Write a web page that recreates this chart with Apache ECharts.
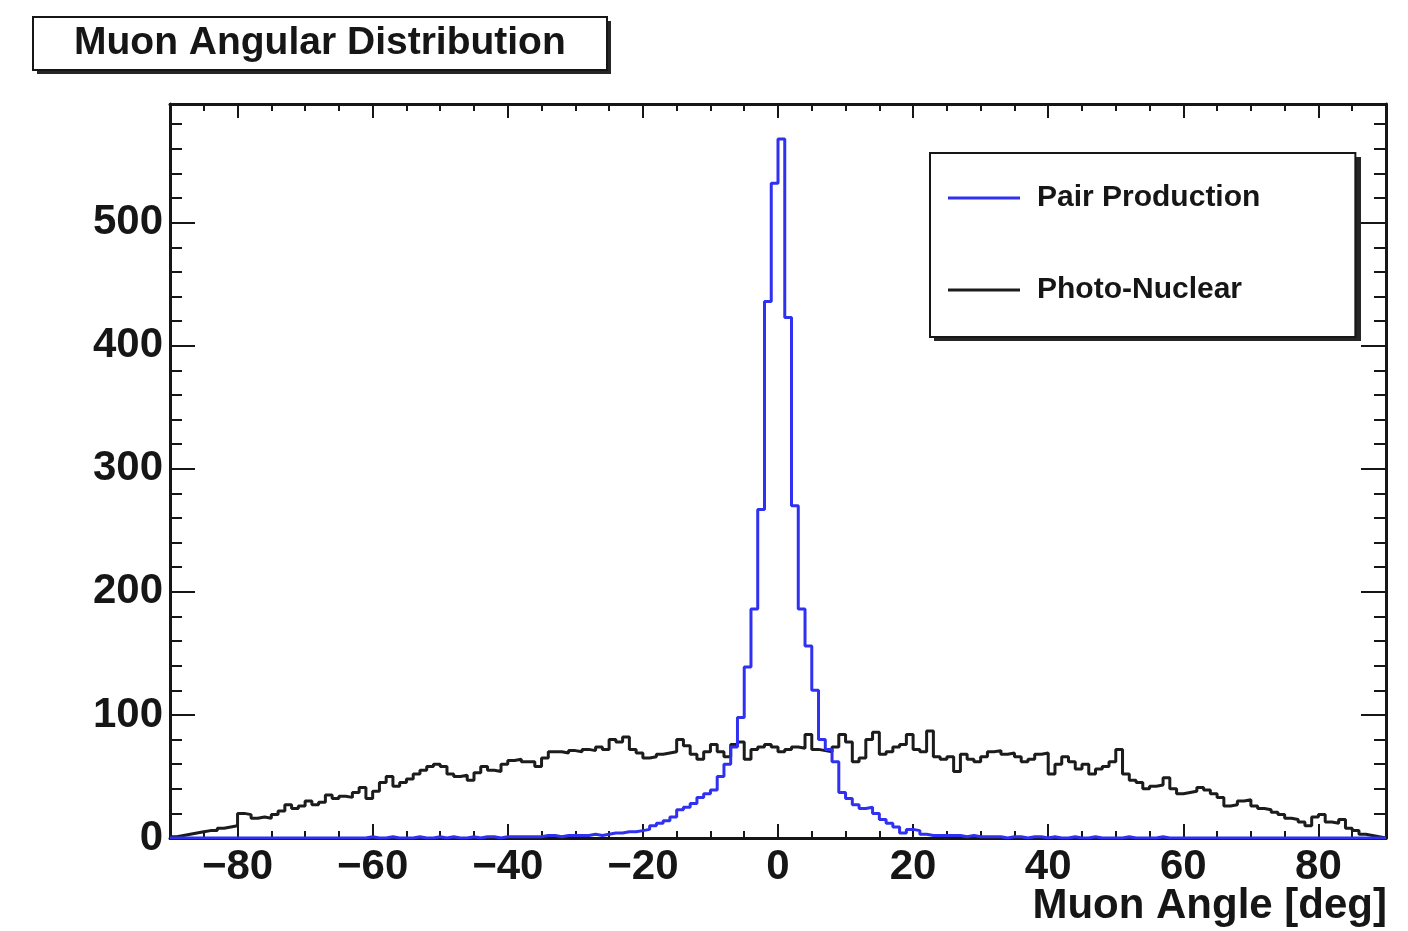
<!DOCTYPE html>
<html>
<head>
<meta charset="utf-8">
<script src="https://cdn.jsdelivr.net/npm/echarts@6/dist/echarts.min.js"></script>
<style>
  html, body { margin: 0; padding: 0; background: #ffffff; }
  #chart { width: 1408px; height: 931px; }
</style>
</head>
<body>
<div id="chart"></div>
<script>
// Histogram binning: 1-degree bins from -90 to 90
const angleMin = -90;
const angleMax = 90;
const binWidth = 1;

// Counts per bin, starting at the -90 deg bin
const pairProduction = [
  0, 0, 0, 0, 0, 0, 0, 0, 0, 0,
  0, 0, 0, 0, 0, 0, 0, 0, 0, 0,
  0, 0, 0, 0, 0, 0, 0, 0, 0, 1,
  0, 0, 1, 0, 0, 0, 1, 0, 0, 1,
  0, 1, 0, 0, 1, 0, 1, 1, 0, 1,
  1, 1, 1, 1, 1, 2, 2, 1, 2, 2,
  2, 2, 3, 2, 3, 4, 4, 5, 5, 6,
  7, 10, 12, 14, 17, 23, 25, 28, 33, 36,
  39, 50, 60, 74, 98, 139, 186, 267, 436, 532,
  568, 423, 270, 186, 156, 120, 80, 72, 62, 37,
  32, 27, 24, 25, 20, 15, 12, 9, 4, 7,
  6, 3, 2, 2, 2, 2, 2, 1, 2, 1,
  1, 1, 1, 0, 1, 1, 0, 1, 1, 0,
  1, 0, 0, 1, 0, 0, 1, 0, 0, 0,
  0, 1, 0, 0, 0, 0, 1, 0, 0, 0,
  0, 0, 0, 0, 0, 0, 0, 0, 0, 0,
  0, 0, 0, 0, 0, 0, 0, 0, 0, 0,
  0, 0, 0, 0, 0, 0, 0, 0, 0, 0
];

const photoNuclear = [
  1, 2, 3, 4, 5, 6, 6, 8, 9, 10,
  20, 19, 16, 17, 16, 19, 22, 27, 24, 26,
  30, 27, 29, 35, 32, 34, 33, 37, 41, 32,
  38, 45, 50, 42, 45, 48, 52, 55, 58, 60,
  58, 52, 50, 51, 47, 53, 58, 55, 54, 60,
  63, 64, 62, 62, 58, 65, 70, 70, 69, 71,
  70, 72, 71, 74, 72, 80, 78, 82, 72, 69,
  65, 66, 68, 69, 70, 80, 75, 68, 64, 70,
  76, 70, 66, 76, 78, 64, 72, 74, 76, 74,
  70, 72, 74, 73, 84, 72, 71, 70, 74, 84,
  78, 62, 65, 80, 86, 68, 70, 74, 76, 84,
  72, 70, 87, 66, 64, 66, 54, 68, 64, 62,
  66, 70, 71, 68, 69, 66, 62, 64, 68, 69,
  52, 60, 66, 62, 56, 60, 52, 56, 58, 62,
  72, 52, 47, 45, 40, 42, 43, 49, 40, 36,
  37, 38, 41, 39, 36, 33, 26, 27, 30, 31,
  26, 24, 23, 21, 19, 16, 15, 13, 10, 17,
  19, 13, 12, 15, 8, 6, 3, 2, 1, 0
];

// Axis tick positions
const xMajorTicks = [-80, -60, -40, -20, 0, 20, 40, 60, 80];
const xMinorTicks = [-85, -75, -70, -65, -55, -50, -45, -35, -30, -25, -15, -10, -5,
                     5, 10, 15, 25, 30, 35, 45, 50, 55, 65, 70, 75, 85];
const yMajorTicks = [0, 100, 200, 300, 400, 500];
const yMinorTicks = [20, 40, 60, 80, 120, 140, 160, 180, 220, 240, 260, 280,
                     320, 340, 360, 380, 420, 440, 460, 480, 520, 540, 560, 580];

const FONT = '"Liberation Sans", Arial, Helvetica, sans-serif';
const INK = '#161616';
const SHADOW = '#262626';

// Turn bin counts into step-line points at each bin's lower edge,
// plus a closing point at the upper edge of the last bin
function toSteps(counts) {
  const pts = counts.map((c, i) => [angleMin + i * binWidth, c]);
  pts.push([angleMin + counts.length * binWidth, counts[counts.length - 1]]);
  return pts;
}

// Vertical range leaves 5% headroom above the tallest bin
const yMax = Math.max(...pairProduction, ...photoNuclear) * 1.05;

function xAxisDef(position, ticks, tickLen, primary) {
  return {
    type: 'value', min: angleMin, max: angleMax, position: position,
    axisLine: { show: primary, onZero: false, lineStyle: { color: INK, width: 3 } },
    axisTick: { show: true, inside: true, length: tickLen, customValues: ticks,
                lineStyle: { color: INK, width: 2 } },
    axisLabel: { show: false },
    splitLine: { show: false }
  };
}
function yAxisDef(position, ticks, tickLen, primary) {
  return {
    type: 'value', min: 0, max: yMax, position: position,
    axisLine: { show: primary, onZero: false, lineStyle: { color: INK, width: 3 } },
    axisTick: { show: true, inside: true, length: tickLen, customValues: ticks,
                lineStyle: { color: INK, width: 2 } },
    axisLabel: { show: false },
    splitLine: { show: false }
  };
}

const xBottom = xAxisDef('bottom', xMajorTicks, 14, true);
xBottom.axisLabel = {
  show: true, customValues: xMajorTicks, margin: 8,
  fontFamily: FONT, fontSize: 42, fontWeight: 'bold', color: INK,
  formatter: v => (v < 0 ? '\u2212' + Math.abs(v) : String(v))
};

const yLeft = yAxisDef('left', yMajorTicks, 25, true);
yLeft.axisLabel = {
  show: true, customValues: yMajorTicks, margin: 7,
  fontFamily: FONT, fontSize: 42, fontWeight: 'bold', color: INK,
  padding: [10, 0, 0, 0]
};

const chart = echarts.init(document.getElementById('chart'), null, { renderer: 'canvas' });
chart.setOption({
  animation: false,
  backgroundColor: '#ffffff',
  // Drop shadows behind the title pave and the legend box
  graphic: [
    { type: 'rect', left: 37, top: 21, z: 0, silent: true,
      shape: { width: 574, height: 53 }, style: { fill: SHADOW } },
    { type: 'rect', left: 934, top: 157, z: 0, silent: true,
      shape: { width: 427, height: 184 }, style: { fill: SHADOW } }
  ],
  title: [
    {
      text: 'Muon Angular Distribution',
      left: 33, top: 17, z: 10,
      padding: [7, 41, 7, 41],
      backgroundColor: '#ffffff',
      borderColor: INK, borderWidth: 2,
      textStyle: { fontFamily: FONT, fontSize: 39, fontWeight: 'bold', color: INK, lineHeight: 39 }
    },
    {
      // x-axis title, right-aligned under the plot frame
      text: 'Muon Angle [deg]',
      right: 21, top: 883, padding: 0,
      textStyle: { fontFamily: FONT, fontSize: 42, fontWeight: 'bold', color: INK, lineHeight: 46 }
    }
  ],
  legend: {
    orient: 'vertical',
    left: 930, top: 153, z: 10,
    data: ['Pair Production', 'Photo-Nuclear'],
    icon: 'rect', itemWidth: 72, itemHeight: 3, itemGap: 62,
    padding: [30, 95, 32, 18],
    backgroundColor: '#ffffff',
    borderColor: INK, borderWidth: 2, borderRadius: 0,
    textStyle: { fontFamily: FONT, fontSize: 30, fontWeight: 'bold', color: INK,
                 lineHeight: 30, padding: [0, 0, 0, 12] }
  },
  grid: { left: 170, right: 22, top: 104, bottom: 93, containLabel: false, outerBoundsMode: 'none' },
  xAxis: [
    xBottom,
    xAxisDef('bottom', xMinorTicks, 7, false),
    xAxisDef('top', xMajorTicks, 14, true),
    xAxisDef('top', xMinorTicks, 7, false)
  ],
  yAxis: [
    yLeft,
    yAxisDef('left', yMinorTicks, 12, false),
    yAxisDef('right', yMajorTicks, 25, true),
    yAxisDef('right', yMinorTicks, 12, false)
  ],
  series: [
    {
      name: 'Photo-Nuclear', type: 'line', step: 'end',
      data: toSteps(photoNuclear), symbol: 'none', showSymbol: false,
      lineStyle: { color: '#1c1c1c', width: 3 }, itemStyle: { color: '#1c1c1c' },
      z: 3
    },
    {
      name: 'Pair Production', type: 'line', step: 'end',
      data: toSteps(pairProduction), symbol: 'none', showSymbol: false,
      lineStyle: { color: '#3030f2', width: 3 }, itemStyle: { color: '#3030f2' },
      z: 4
    }
  ]
});
</script>
</body>
</html>
